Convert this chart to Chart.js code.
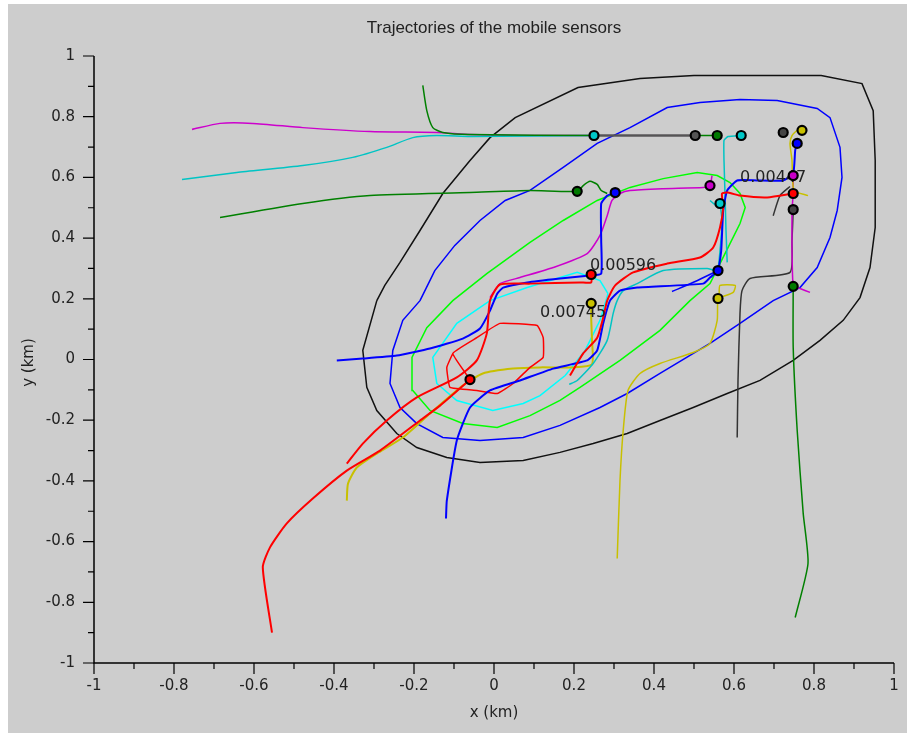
<!DOCTYPE html>
<html>
<head>
<meta charset="utf-8">
<style>
  html, body { margin: 0; padding: 0; background: #ffffff; }
  canvas { display: block; }
</style>
<script src="https://cdn.jsdelivr.net/npm/chart.js@4.4.0/dist/chart.umd.min.js"></script>
</head>
<body>
<canvas id="trajChart" width="907" height="733"></canvas>
<script>
// axis ticks
const majorTicks = [-1, -0.8, -0.6, -0.4, -0.2, 0, 0.2, 0.4, 0.6, 0.8, 1];
const tickLabels = ['-1', '-0.8', '-0.6', '-0.4', '-0.2', '0', '0.2', '0.4', '0.6', '0.8', '1'];

// contour levels of the field (x, y in km)
const levelBlack = [[-0.293,0.194],[-0.328,0.030],[-0.318,-0.092],[-0.293,-0.168],[-0.243,-0.244],[-0.193,-0.290],[-0.118,-0.323],[-0.035,-0.339],[0.073,-0.333],[0.165,-0.306],[0.248,-0.277],[0.333,-0.244],[0.415,-0.201],[0.498,-0.158],[0.583,-0.112],[0.665,-0.069],[0.748,-0.003],[0.815,0.063],[0.873,0.129],[0.915,0.204],[0.940,0.303],[0.953,0.435],[0.953,0.656],[0.948,0.820],[0.920,0.909],[0.818,0.936],[0.665,0.936],[0.500,0.936],[0.365,0.926],[0.210,0.896],[0.053,0.797],[-0.010,0.731],[-0.060,0.656],[-0.128,0.547],[-0.185,0.425],[-0.235,0.320],[-0.273,0.244],[-0.293,0.194]];
const levelBlue = [[-0.185,0.194],[-0.148,0.293],[-0.098,0.376],[-0.035,0.458],[0.028,0.524],[0.090,0.557],[0.173,0.633],[0.258,0.712],[0.340,0.764],[0.433,0.830],[0.515,0.847],[0.615,0.857],[0.708,0.853],[0.808,0.827],[0.840,0.797],[0.865,0.699],[0.870,0.600],[0.858,0.491],[0.840,0.402],[0.808,0.303],[0.765,0.237],[0.698,0.194],[0.615,0.119],[0.540,0.053],[0.415,-0.046],[0.333,-0.112],[0.265,-0.158],[0.165,-0.217],[0.073,-0.257],[-0.035,-0.267],[-0.128,-0.257],[-0.193,-0.211],[-0.235,-0.158],[-0.260,-0.079],[-0.253,0.030],[-0.228,0.129],[-0.185,0.194]];
const levelGreen = [[0.090,0.386],[0.173,0.458],[0.258,0.524],[0.340,0.567],[0.423,0.596],[0.508,0.616],[0.558,0.606],[0.590,0.583],[0.615,0.547],[0.628,0.501],[0.615,0.448],[0.590,0.382],[0.565,0.316],[0.540,0.250],[0.490,0.194],[0.415,0.096],[0.315,-0.003],[0.215,-0.092],[0.165,-0.135],[0.090,-0.185],[0.008,-0.224],[-0.078,-0.211],[-0.160,-0.168],[-0.203,-0.102],[-0.205,0.007],[-0.168,0.105],[-0.103,0.194],[-0.018,0.283],[0.090,0.386]];
const levelCyan = [[0.285,0.217],[0.265,0.129],[0.228,0.030],[0.178,-0.053],[0.115,-0.119],[0.073,-0.145],[-0.003,-0.168],[-0.093,-0.135],[-0.143,-0.079],[-0.153,0.007],[-0.093,0.119],[-0.010,0.194],[0.083,0.237],[0.208,0.287],[0.265,0.260],[0.285,0.217]];

// contour values written on the plot
const levelLabels = ['0.00447', '0.00596', '0.00745'];
const levelLabelAt = [[0.615, 0.60], [0.24, 0.31], [0.115, 0.155]];

// sensor trajectories
const magentaWest = [[-0.755,0.758],[-0.685,0.778],[-0.603,0.778],[-0.478,0.764],[-0.310,0.751],[-0.143,0.748],[-0.060,0.741],[0.065,0.738],[0.250,0.738],[0.503,0.738]];
const cyanWest = [[-0.780,0.593],[-0.643,0.616],[-0.478,0.639],[-0.353,0.666],[-0.268,0.699],[-0.203,0.731],[-0.143,0.738],[-0.060,0.735],[0.250,0.738]];
const greenWest = [[-0.685,0.468],[-0.478,0.514],[-0.310,0.540],[-0.060,0.550],[0.090,0.557],[0.208,0.554],[0.223,0.573],[0.240,0.587],[0.258,0.577],[0.268,0.557],[0.283,0.547]];
const greenNorth = [[-0.178,0.903],[-0.168,0.820],[-0.153,0.764],[-0.128,0.748],[-0.060,0.741],[0.265,0.738],[0.558,0.738]];
const greyNorth = [[0.250,0.738],[0.503,0.738]];
const blackEast = [[0.608,-0.257],[0.610,-0.069],[0.615,0.152],[0.620,0.227],[0.640,0.267],[0.740,0.287],[0.745,0.392],[0.748,0.494]];
const blackShort = [[0.698,0.474],[0.715,0.540],[0.740,0.570]];
const greenSouth = [[0.753,-0.850],[0.785,-0.672],[0.773,-0.507],[0.758,-0.234],[0.748,0.040],[0.748,0.241]];
const magentaEast = [[0.790,0.221],[0.765,0.234],[0.748,0.241],[0.745,0.359],[0.745,0.491],[0.748,0.547],[0.748,0.606]];
const yellowSouth = [[0.308,-0.656],[0.315,-0.399],[0.323,-0.234],[0.335,-0.102],[0.365,-0.046],[0.415,-0.013],[0.498,0.023],[0.540,0.053],[0.558,0.129],[0.560,0.201],[0.573,0.208],[0.598,0.221],[0.603,0.244],[0.565,0.244],[0.563,0.211]];
const yellowWest = [[-0.368,-0.465],[-0.365,-0.409],[-0.343,-0.356],[-0.293,-0.310],[-0.228,-0.257],[-0.160,-0.178],[-0.078,-0.086],[-0.028,-0.046],[0.048,-0.030],[0.115,-0.026],[0.198,-0.026],[0.245,-0.016],[0.245,0.063],[0.243,0.138],[0.243,0.185]];
const yellowNorth = [[0.785,0.540],[0.750,0.557],[0.745,0.656],[0.740,0.712],[0.745,0.738],[0.758,0.755],[0.770,0.755]];
const redSouth = [[-0.555,-0.900],[-0.578,-0.685],[-0.560,-0.619],[-0.518,-0.540],[-0.453,-0.458],[-0.368,-0.366],[-0.285,-0.300],[-0.185,-0.201],[-0.135,-0.152],[-0.060,-0.066]];
const redWest = [[-0.368,-0.343],[-0.328,-0.277],[-0.268,-0.201],[-0.193,-0.125],[-0.093,-0.059],[-0.043,-0.003],[-0.018,0.086],[-0.010,0.194],[0.015,0.247],[0.090,0.250],[0.215,0.254],[0.243,0.254],[0.243,0.280]];
const redLoop = [[-0.060,-0.066],[-0.103,0.020],[-0.043,0.072],[0.015,0.119],[0.108,0.112],[0.123,0.072],[0.123,0.007],[0.090,-0.026],[0.048,-0.079],[0.008,-0.112],[-0.043,-0.102],[-0.110,-0.092],[-0.118,-0.026],[-0.103,0.020]];
const redMiddle = [[0.190,-0.053],[0.223,0.020],[0.258,0.072],[0.273,0.138],[0.283,0.194],[0.303,0.244],[0.348,0.287],[0.433,0.316],[0.515,0.336],[0.548,0.369],[0.565,0.435],[0.573,0.501],[0.570,0.547],[0.585,0.550],[0.615,0.540],[0.683,0.534],[0.748,0.547]];
const blueWest = [[-0.393,-0.003],[-0.328,0.003],[-0.243,0.013],[-0.160,0.036],[-0.078,0.069],[-0.035,0.102],[-0.010,0.161],[0.008,0.217],[0.023,0.237],[0.083,0.254],[0.165,0.267],[0.240,0.277],[0.268,0.283],[0.268,0.392],[0.268,0.514],[0.283,0.540],[0.303,0.550]];
const blueSouth = [[-0.120,-0.524],[-0.118,-0.465],[-0.093,-0.267],[-0.060,-0.158],[-0.010,-0.102],[0.065,-0.069],[0.148,-0.030],[0.233,-0.003],[0.258,0.030],[0.273,0.119],[0.290,0.194],[0.315,0.227],[0.358,0.237],[0.523,0.250],[0.540,0.270],[0.560,0.293],[0.568,0.359],[0.573,0.491],[0.583,0.557],[0.608,0.590],[0.658,0.590],[0.723,0.590],[0.748,0.613],[0.753,0.689],[0.758,0.712]];
const blueShort = [[0.445,0.224],[0.503,0.257],[0.560,0.293]];
const cyanSouth = [[0.188,-0.082],[0.208,-0.069],[0.248,-0.013],[0.283,0.063],[0.298,0.152],[0.308,0.194],[0.323,0.227],[0.358,0.250],[0.423,0.293],[0.533,0.300],[0.558,0.293],[0.565,0.359],[0.570,0.458],[0.565,0.514]];
const cyanNorth = [[0.583,0.320],[0.580,0.425],[0.578,0.524],[0.575,0.656],[0.575,0.722],[0.585,0.735],[0.618,0.738]];
const cyanTail = [[0.540,0.524],[0.555,0.507],[0.565,0.514]];
const magentaMiddle = [[-0.010,0.204],[0.015,0.250],[0.065,0.270],[0.148,0.303],[0.233,0.349],[0.265,0.409],[0.283,0.474],[0.295,0.524],[0.315,0.547],[0.340,0.557],[0.423,0.563],[0.523,0.567],[0.540,0.573],[0.545,0.606]];

// final sensor positions and their fill colours
const sensorPos = [[0.250,0.738],[0.503,0.738],[0.558,0.738],[0.618,0.738],[0.723,0.748],[0.770,0.755],[0.758,0.712],[0.208,0.554],[0.303,0.550],[0.540,0.573],[0.565,0.514],[0.748,0.606],[0.748,0.547],[0.748,0.494],[0.560,0.293],[0.243,0.280],[0.243,0.185],[0.560,0.201],[0.748,0.241],[-0.060,-0.066]];
const sensorFill = ['#00c8c8','#555555','#007a00','#00c8c8','#444444','#c8c000','#0000ff','#007a00','#0000ff','#c800c8','#00c8c8','#c800c8','#ff0000','#444444','#0000ff','#ff0000','#c8c000','#c8c000','#007a00','#ff0000'];

const RED = '#ff0000', BLUE = '#0000ff', DGREEN = '#008000', CYAN = '#00c4c4',
      MAGENTA = '#cc00cc', YELLOW = '#c8c000', BLACK = '#333333';

function pts(arr) {
  return arr.map(p => ({ x: p[0], y: p[1] }));
}

function path(arr, color, width, order, tension) {
  return {
    data: pts(arr),
    showLine: true,
    borderColor: color,
    borderWidth: width,
    pointRadius: 0,
    pointHoverRadius: 0,
    tension: tension,
    fill: false,
    order: order
  };
}

const datasets = [
  {
    data: pts(sensorPos),
    showLine: false,
    pointRadius: 4.5,
    pointHoverRadius: 4.5,
    pointBorderWidth: 2.2,
    pointBorderColor: '#000000',
    pointBackgroundColor: sensorFill,
    order: 0
  },
  path(redSouth, RED, 2, 1, 0.2),
  path(redWest, RED, 2, 1, 0.2),
  path(redMiddle, RED, 2, 1, 0.2),
  path(blueWest, BLUE, 2, 1, 0.15),
  path(blueSouth, BLUE, 2, 1, 0.15),
  path(blueShort, BLUE, 1.5, 1, 0.2),
  path(magentaMiddle, MAGENTA, 1.5, 1, 0.2),
  path(cyanSouth, CYAN, 1.5, 1, 0.2),
  path(cyanNorth, CYAN, 1.5, 1, 0.1),
  path(cyanTail, CYAN, 1.5, 1, 0),
  path(redLoop, RED, 1.5, 1, 0.1),
  path(yellowWest, YELLOW, 2, 1, 0.2),
  path(yellowSouth, YELLOW, 1.5, 1, 0.2),
  path(yellowNorth, YELLOW, 1.5, 1, 0.2),
  path(magentaEast, MAGENTA, 1.5, 1, 0.1),
  path(greenSouth, DGREEN, 1.5, 1, 0.2),
  path(blackEast, BLACK, 1.5, 1, 0.2),
  path(blackShort, BLACK, 1.5, 1, 0.2),
  path(greyNorth, '#555555', 2, 1, 0),
  path(greenNorth, DGREEN, 1.5, 1, 0.2),
  path(greenWest, DGREEN, 1.5, 1, 0.2),
  path(cyanWest, CYAN, 1.5, 1, 0.2),
  path(magentaWest, MAGENTA, 1.5, 1, 0.2),
  path(levelCyan, '#00ffff', 1.5, 2, 0),
  path(levelGreen, '#00ff00', 1.5, 2, 0),
  path(levelBlue, BLUE, 1.5, 2, 0),
  path(levelBlack, '#111111', 1.5, 2, 0)
];

// Scilab-like frame: grey figure, bare axes with outward ticks
const sciFrame = {
  id: 'sciFrame',
  beforeDraw(chart) {
    const { ctx, width, height } = chart;
    ctx.save();
    ctx.fillStyle = '#ffffff';
    ctx.fillRect(0, 0, width, height);
    ctx.fillStyle = '#cdcdcd';
    ctx.fillRect(8, 4, width - 8, height - 4);
    ctx.restore();
  },
  beforeDatasetsDraw(chart) {
    const { ctx, scales: { x, y } } = chart;
    const left = x.getPixelForValue(-1), right = x.getPixelForValue(1);
    const top = y.getPixelForValue(1), bottom = y.getPixelForValue(-1);
    ctx.save();
    ctx.strokeStyle = '#000000';
    ctx.lineWidth = 1.5;
    ctx.beginPath();
    ctx.moveTo(left, top);
    ctx.lineTo(left, bottom);
    ctx.lineTo(right, bottom);
    ctx.stroke();

    ctx.lineWidth = 1.2;
    ctx.beginPath();
    for (let i = -10; i <= 10; i++) {
      const len = i % 2 === 0 ? 11 : 6;
      const px = x.getPixelForValue(i / 10);
      ctx.moveTo(px, bottom);
      ctx.lineTo(px, bottom + len);
      const py = y.getPixelForValue(i / 10);
      ctx.moveTo(left, py);
      ctx.lineTo(left - len, py);
    }
    ctx.stroke();

    ctx.fillStyle = '#222222';
    ctx.font = '15px "DejaVu Sans"';
    ctx.textBaseline = 'middle';
    majorTicks.forEach((v, k) => {
      ctx.textAlign = 'center';
      ctx.fillText(tickLabels[k], x.getPixelForValue(v), bottom + 23);
      ctx.textAlign = 'right';
      ctx.fillText(tickLabels[k], left - 19, y.getPixelForValue(v));
    });

    ctx.textAlign = 'center';
    ctx.font = '17px "Liberation Sans"';
    ctx.fillText('Trajectories of the mobile sensors', (left + right) / 2, 28);
    ctx.font = '15px "DejaVu Sans"';
    ctx.fillText('x (km)', (left + right) / 2, bottom + 50);
    ctx.save();
    ctx.translate(29, y.getPixelForValue(0) + 3);
    ctx.rotate(-Math.PI / 2);
    ctx.fillText('y (km)', 0, 0);
    ctx.restore();
    ctx.restore();
  },
  beforeDatasetDraw(chart, args) {
    // contour values go under the sensor markers
    if (args.index !== 0) return;
    const { ctx, scales: { x, y } } = chart;
    ctx.save();
    ctx.fillStyle = '#222222';
    ctx.font = '16px "DejaVu Sans"';
    ctx.textAlign = 'left';
    ctx.textBaseline = 'middle';
    levelLabels.forEach((t, k) => {
      ctx.fillText(t, x.getPixelForValue(levelLabelAt[k][0]), y.getPixelForValue(levelLabelAt[k][1]));
    });
    ctx.restore();
  }
};

new Chart(document.getElementById('trajChart'), {
  type: 'scatter',
  data: { datasets: datasets },
  options: {
    responsive: false,
    animation: false,
    devicePixelRatio: 1,
    layout: { padding: { left: 94, right: 13, top: 56, bottom: 70 } },
    plugins: {
      legend: { display: false },
      tooltip: { enabled: false },
      title: { display: false }
    },
    scales: {
      x: { type: 'linear', min: -1, max: 1, display: false },
      y: { type: 'linear', min: -1, max: 1, display: false }
    }
  },
  plugins: [sciFrame]
});
</script>
</body>
</html>
